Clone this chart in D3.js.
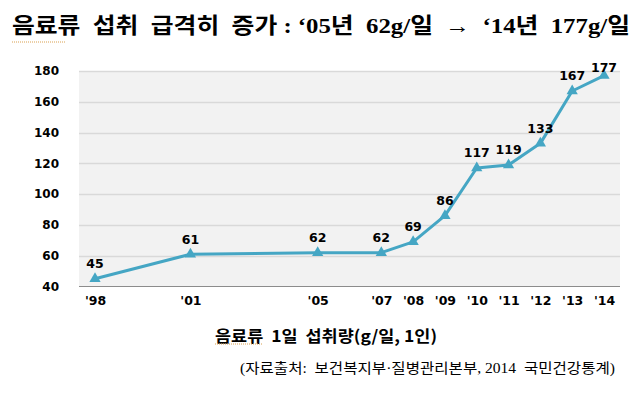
<!DOCTYPE html>
<html><head><meta charset="utf-8">
<script src="https://cdn.jsdelivr.net/npm/d3@7"></script>
<style>body{margin:0;background:#fff}svg{display:block}</style>
</head><body>
<svg id="c" width="643" height="396"></svg>
<script>
const years = [1998, 2001, 2005, 2007, 2008, 2009, 2010, 2011, 2012, 2013, 2014];
const tickLabels = ["'98", "'01", "'05", "'07", "'08", "'09", "'10", "'11", "'12", "'13", "'14"];
const values = [45, 61, 62, 62, 69, 86, 117, 119, 133, 167, 177];
const yTicks = [40, 60, 80, 100, 120, 140, 160, 180];
const title = "음료류  섭취  급격히  증가 : ‘05년  62g/일  →  ‘14년  177g/일";
const subtitle = "음료류  1일  섭취량(g/일, 1인)";
const source = "(자료출처:  보건복지부·질병관리본부, 2014  국민건강통계)";

const svg = d3.select("#c");
const plot = {l: 79, r: 620, t: 71, b: 286.5};
const x = d3.scaleLinear().domain([1998, 2014]).range([95, 604]);
const y = d3.scaleLinear().domain([40, 180]).range([plot.b, plot.t]);
const numFont = "'DejaVu Sans',Verdana,sans-serif";

// title
svg.append("text").attr("x", 12).attr("y", 33)
  .attr("font-family", "'Liberation Serif','Noto Sans CJK KR'")
  .attr("font-weight", "bold").attr("font-size", 22).attr("fill", "#000")
  .attr("textLength", 618).attr("lengthAdjust", "spacingAndGlyphs")
  .style("white-space", "pre").text(title);
svg.append("line").attr("x1", 12).attr("x2", 66).attr("y1", 42).attr("y2", 42)
  .attr("stroke", "#d9a050").attr("stroke-width", 1).attr("stroke-dasharray", "1,1");

// plot background
svg.append("rect").attr("x", plot.l).attr("y", plot.t).attr("width", plot.r - plot.l)
  .attr("height", plot.b - plot.t).attr("fill", "#f2f2f2");

// gridlines
svg.append("g").selectAll("line").data(yTicks.filter(d => d > 40)).join("line")
  .attr("x1", plot.l).attr("x2", plot.r)
  .attr("y1", d => Math.round(y(d)) + 0.5).attr("y2", d => Math.round(y(d)) + 0.5)
  .attr("stroke", "#d9d9d9").attr("stroke-width", 1.5);

// bottom axis line
svg.append("line").attr("x1", plot.l).attr("x2", plot.r)
  .attr("y1", plot.b).attr("y2", plot.b).attr("stroke", "#8c8c8c").attr("stroke-width", 1);

// y labels
const yAxis = d3.axisLeft(y).tickValues(yTicks).tickSize(0).tickPadding(0).tickFormat(d3.format("d"));
const ya = svg.append("g").attr("transform", "translate(59,0)").call(yAxis);
ya.select(".domain").remove();
ya.selectAll("text").attr("font-family", numFont)
  .attr("font-weight", "bold").attr("font-size", 12).attr("fill", "#000");

// x labels
const xa = svg.append("g").attr("transform", "translate(0,296)")
  .call(d3.axisBottom(x).tickValues(years).tickSize(0).tickPadding(0)
    .tickFormat((d, i) => tickLabels[i]));
xa.select(".domain").remove();
xa.selectAll("text").attr("font-family", numFont)
  .attr("font-weight", "bold").attr("font-size", 12.5).attr("fill", "#000");

// line
const pts = years.map((yr, i) => ({yr, v: values[i]}));
svg.append("path").datum(pts)
  .attr("d", d3.line().x(d => x(d.yr)).y(d => y(d.v)))
  .attr("fill", "none").attr("stroke", "#45a6c4").attr("stroke-width", 3)
  .attr("stroke-linejoin", "round");

// markers
svg.append("g").selectAll("path").data(pts).join("path")
  .attr("transform", d => `translate(${x(d.yr)},${y(d.v)})`)
  .attr("d", d3.symbol(d3.symbolTriangle, 55))
  .attr("fill", "#45a6c4");

// data labels
svg.append("g").selectAll("text").data(pts).join("text")
  .attr("x", d => x(d.yr)).attr("y", d => Math.max(y(d.v) - 15, 68))
  .attr("dy", "0.35em").attr("text-anchor", "middle")
  .attr("font-family", numFont)
  .attr("font-weight", "bold").attr("font-size", 12.5).attr("fill", "#000")
  .text(d => d.v);

// subtitle
svg.append("text").attr("x", 215).attr("y", 342)
  .attr("font-family", "'Noto Sans CJK KR',sans-serif").attr("font-weight", "bold")
  .attr("font-size", 16).attr("fill", "#000").style("white-space", "pre")
  .attr("textLength", 222).attr("lengthAdjust", "spacingAndGlyphs").text(subtitle);
svg.append("line").attr("x1", 215).attr("x2", 263).attr("y1", 344).attr("y2", 344)
  .attr("stroke", "#d9a050").attr("stroke-width", 1).attr("stroke-dasharray", "1,1");

// source
svg.append("text").attr("x", 240).attr("y", 373)
  .attr("font-family", "'Liberation Serif','Noto Sans CJK KR',serif")
  .attr("font-size", 14).attr("fill", "#000").style("white-space", "pre")
  .attr("textLength", 375).attr("lengthAdjust", "spacingAndGlyphs").text(source);
</script>
</body></html>
